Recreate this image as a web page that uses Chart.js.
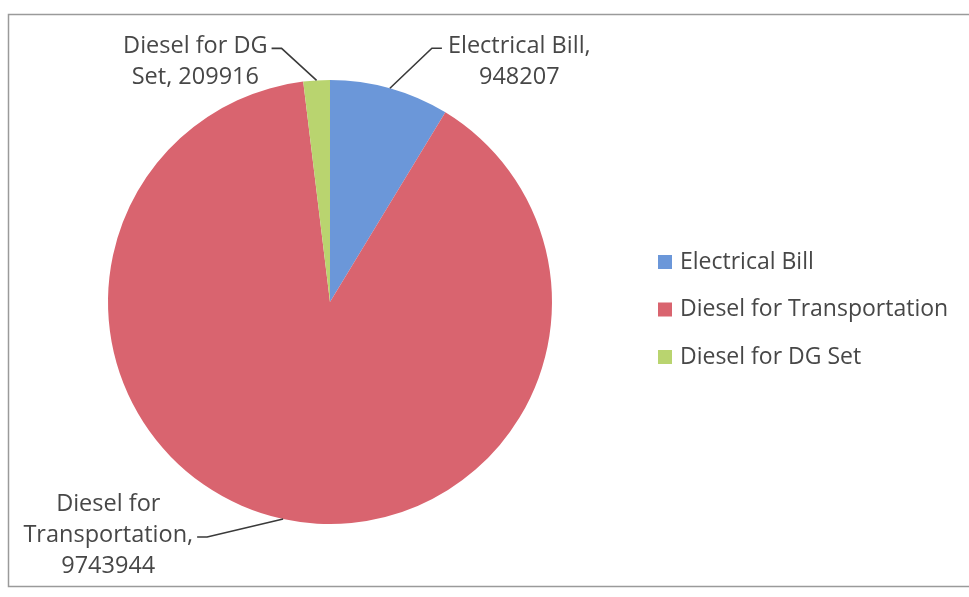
<!DOCTYPE html>
<html>
<head>
<meta charset="utf-8">
<script src="https://cdn.jsdelivr.net/npm/chart.js@4.4.0/dist/chart.umd.min.js"></script>
<style>
  html, body { margin: 0; padding: 0; background: #fff; }
  #wrap { width: 969px; height: 597px; position: relative; }
</style>
</head>
<body>
<div id="wrap"><canvas id="costChart" width="969" height="597"></canvas></div>
<script>
// categories and values
var categories = ['Electrical Bill', 'Diesel for Transportation', 'Diesel for DG Set'];
var values = [948207, 9743944, 209916];
var sliceColors = ['#6b97d9', '#d9646f', '#b9d46f'];

// data label text, broken into lines like the original
var labelLines = [
    ['Electrical Bill,', '948207'],
    ['Diesel for', 'Transportation,', '9743944'],
    ['Diesel for DG', 'Set, 209916']
];
// leader elbow offset from slice edge, and label side
var labelPlace = [
    { elbowDx: 42, elbowDy: -40, side: 'right', lineIdx: 0 },
    { elbowDx: -76, elbowDy: 18, side: 'left', lineIdx: 1 },
    { elbowDx: -35, elbowDy: -32, side: 'left', lineIdx: 0 }
];

var FONT = '"Open Sans", Lato, sans-serif';
var textColor = '#474747';

var framePlugin = {
    id: 'frame',
    beforeDraw: function (chart) {
        var ctx = chart.ctx;
        ctx.save();
        ctx.strokeStyle = '#9a9a9a';
        ctx.lineWidth = 1.5;
        ctx.beginPath();
        ctx.moveTo(1000, 14.5);
        ctx.lineTo(8.5, 14.5);
        ctx.lineTo(8.5, 586.5);
        ctx.lineTo(1000, 586.5);
        ctx.stroke();
        ctx.restore();
    }
};

var labelPlugin = {
    id: 'pieLabels',
    afterDraw: function (chart) {
        var ctx = chart.ctx;
        var meta = chart.getDatasetMeta(0);
        ctx.save();
        ctx.font = '23.5px ' + FONT;
        ctx.fillStyle = textColor;
        ctx.textBaseline = 'middle';
        meta.data.forEach(function (arc, i) {
            var mid = (arc.startAngle + arc.endAngle) / 2;
            var px = arc.x + Math.cos(mid) * arc.outerRadius;
            var py = arc.y + Math.sin(mid) * arc.outerRadius;
            var p = labelPlace[i];
            var ex = px + p.elbowDx, ey = py + p.elbowDy;
            var dir = p.side === 'right' ? 1 : -1;
            var tx = ex + dir * 10;
            ctx.strokeStyle = '#3a3a3a';
            ctx.lineWidth = 1.6;
            ctx.beginPath();
            ctx.moveTo(px, py);
            ctx.lineTo(ex, ey);
            ctx.lineTo(tx, ey);
            ctx.stroke();

            var lines = labelLines[i];
            var lh = 31;
            var widths = lines.map(function (t) { return ctx.measureText(t).width; });
            var anchorW = widths[p.lineIdx];
            var cx = p.side === 'right' ? tx + 6 + anchorW / 2 : tx - 4 - anchorW / 2;
            var y0 = ey - 2 - p.lineIdx * lh;
            ctx.textAlign = 'center';
            lines.forEach(function (t, k) {
                ctx.fillText(t, cx, y0 + k * lh);
            });
        });

        // legend
        ctx.font = '23px ' + FONT;
        ctx.textAlign = 'left';
        categories.forEach(function (c, i) {
            var y = 262 + i * 47.5;
            ctx.fillStyle = sliceColors[i];
            ctx.fillRect(658, y - 7, 14, 14);
            ctx.fillStyle = textColor;
            ctx.fillText(c, 680, y);
        });
        ctx.restore();
    }
};

new Chart(document.getElementById('costChart'), {
    type: 'pie',
    data: {
        labels: categories,
        datasets: [{
            data: values,
            backgroundColor: sliceColors,
            borderWidth: 0
        }]
    },
    options: {
        responsive: false,
        animation: false,
        layout: { padding: { left: 108, right: 417, top: 80, bottom: 73 } },
        plugins: {
            legend: { display: false },
            tooltip: { enabled: false }
        }
    },
    plugins: [framePlugin, labelPlugin]
});
</script>
</body>
</html>
